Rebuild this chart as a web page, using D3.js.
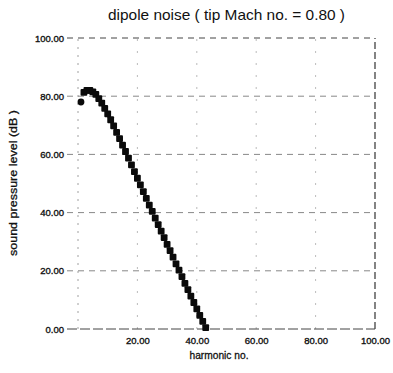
<!DOCTYPE html>
<html><head><meta charset="utf-8">
<script src="https://cdn.jsdelivr.net/npm/d3@7"></script>
<style>body{margin:0;background:#fff}svg{display:block}text{font-family:"Liberation Sans",Arial,sans-serif;fill:#111}</style>
</head><body>
<script>
const title = "dipole noise ( tip Mach no. = 0.80 )";
const xLabel = "harmonic no.";
const yLabel = "sound pressure level (dB )";
const harmonics = [1,2,3,4,5,6,7,8,9,10,11,12,13,14,15,16,17,18,19,20,21,22,23,24,25,26,27,28,29,30,31,32,33,34,35,36,37,38,39,40,41,42,43];
const spl = [78.0,81.3,82.0,82.0,81.5,80.6,79.2,77.6,75.8,73.9,71.9,69.8,67.6,65.4,63.2,61.0,58.7,56.4,54.1,51.8,49.5,47.2,44.9,42.6,40.4,38.1,35.9,33.6,31.4,29.1,26.9,24.7,22.4,20.2,18.0,15.7,13.5,11.3,9.1,6.9,4.7,2.6,0.5];
const xTicks = [20,40,60,80,100];
const yTicks = [0,20,40,60,80,100];

const W=393,H=373;
const svg=d3.select("body").append("svg").attr("width",W).attr("height",H);
const x=d3.scaleLinear().domain([0,100]).range([78,375]);
const y=d3.scaleLinear().domain([0,100]).range([329,38]);

// grid
const g=svg.append("g");
g.selectAll(".hg").data(yTicks.filter(d=>d>0)).join("line")
 .attr("x1",67).attr("x2",x(100)).attr("y1",d=>y(d)).attr("y2",d=>y(d))
 .attr("stroke",d=>d===100?"#444":"#888").attr("stroke-width",1).attr("stroke-dasharray","6,5");
g.selectAll(".vg").data(xTicks).join("line")
 .attr("x1",d=>x(d)).attr("x2",d=>x(d)).attr("y1",y(0)).attr("y2",y(100))
 .attr("stroke",d=>d===100?"#333":"#aaa").attr("stroke-width",d=>d===100?1.2:0.8).attr("stroke-dasharray",d=>d===100?"7,3":"2,10");
// axes
g.append("line").attr("x1",x(0)).attr("x2",x(0)).attr("y1",y(0)).attr("y2",y(100)-4)
 .attr("stroke","#888").attr("stroke-width",0.8).attr("stroke-dasharray","2,6");
g.append("line").attr("x1",67).attr("x2",x(100)).attr("y1",y(0)).attr("y2",y(0))
 .attr("stroke","#444").attr("stroke-width",1).attr("stroke-dasharray","10,3");

const yAxis=d3.axisLeft(y).tickValues(yTicks).tickFormat(d3.format(".2f")).tickSize(0).tickPadding(0);
const ya=svg.append("g").attr("transform","translate(64,0)").call(yAxis);
ya.select(".domain").remove();
ya.selectAll("text").attr("font-size",9.5).attr("fill","#111").attr("stroke","#111").attr("stroke-width",0.35).style("font-family","'Liberation Sans',Arial,sans-serif");

const xAxis=d3.axisBottom(x).tickValues(xTicks).tickFormat(d3.format(".2f")).tickSize(0).tickPadding(0);
const xa=svg.append("g").attr("transform","translate(0,337.5)").call(xAxis);
xa.select(".domain").remove();
xa.selectAll("text").attr("font-size",9.5).attr("fill","#111").attr("stroke","#111").attr("stroke-width",0.35).style("font-family","'Liberation Sans',Arial,sans-serif");

// points
const s=6.8;
svg.append("g").selectAll("rect").data(harmonics).join("rect")
 .attr("x",(d)=>x(d)-s/2).attr("y",(d,i)=>y(spl[i])-s/2)
 .attr("width",s).attr("height",s).attr("rx",(d,i)=>i===0?3.4:1).attr("fill","#0a0a0a");

// titles
svg.append("text").attr("x",226.5).attr("y",20).attr("text-anchor","middle")
 .attr("font-size",14.5).attr("textLength",237).attr("lengthAdjust","spacingAndGlyphs").text(title);
svg.append("text").attr("x",219).attr("y",359).attr("text-anchor","middle")
 .attr("font-size",11).attr("stroke","#111").attr("stroke-width",0.3).attr("textLength",59).attr("lengthAdjust","spacingAndGlyphs").text(xLabel);
svg.append("text").attr("transform","translate(16.5,183) rotate(-90)").attr("text-anchor","middle")
 .attr("font-size",11.5).attr("stroke","#111").attr("stroke-width",0.3).attr("textLength",146).attr("lengthAdjust","spacingAndGlyphs").text(yLabel);
</script>
</body></html>
